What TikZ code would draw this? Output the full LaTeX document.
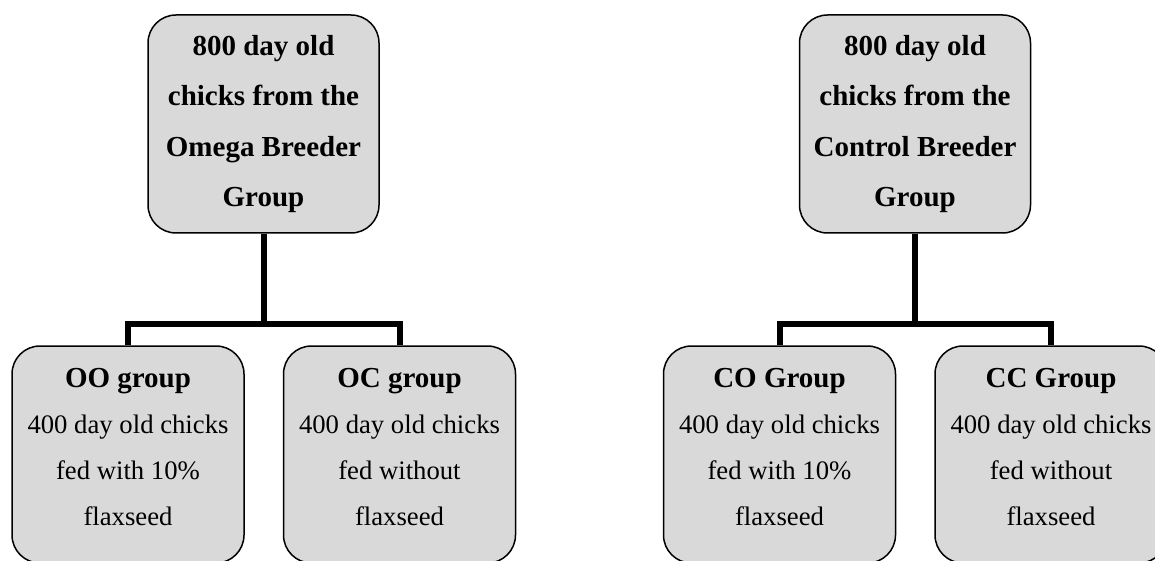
\documentclass[tikz,border=0pt]{standalone}
\usepackage{fontspec}
\setmainfont{Liberation Serif}
\definecolor{boxgray}{HTML}{D9D9D9}
\begin{document}
\begin{tikzpicture}[x=1pt,y=-1pt,
  boxbase/.style={draw=black, line width=1.5pt, fill=boxgray, rounded corners=28pt, inner sep=0pt},
  topbox/.style={boxbase, minimum width=231pt, minimum height=218pt, align=center,
     font=\fontsize{29}{50.3}\selectfont\bfseries},
  lowbox/.style={boxbase, minimum width=232pt, minimum height=217pt},
  lowtext/.style={align=center, inner sep=0pt, font=\fontsize{26.7}{46}\selectfont},
  conn/.style={draw=black, line width=6pt, line join=miter}
]
\useasboundingbox (0,0) rectangle (1155,561);
\clip (0,0) rectangle (1155,561);

% top boxes
\node[topbox] (omega) at (263.5,124) {800 day old\\chicks from the\\Omega Breeder\\Group};
\node[topbox] (control) at (915,124) {800 day old\\chicks from the\\Control Breeder\\Group};

% bottom boxes
\node[lowbox] (oo) at (128,454.5) {};
\node[lowbox] (oc) at (399.5,454.5) {};
\node[lowbox] (co) at (779.5,454.5) {};
\node[lowbox] (cc) at (1051,454.5) {};

\node[lowtext] (ootext) at (oo.center) [yshift=7pt] {{\fontsize{29}{46}\selectfont\bfseries OO group}\\400 day old chicks\\fed with 10\%\\flaxseed};
\node[lowtext] (octext) at (oc.center) [yshift=7pt] {{\fontsize{29}{46}\selectfont\bfseries OC group}\\400 day old chicks\\fed without\\flaxseed};
\node[lowtext] (cotext) at (co.center) [yshift=7pt] {{\fontsize{29}{46}\selectfont\bfseries CO Group}\\400 day old chicks\\fed with 10\%\\flaxseed};
\node[lowtext] (cctext) at (cc.center) [yshift=7pt] {{\fontsize{29}{46}\selectfont\bfseries CC Group}\\400 day old chicks\\fed without\\flaxseed};

% junctions
\coordinate (oj) at (263.5,323.5);
\coordinate (cj) at (915,323.5);

% connectors
\draw[conn] (omega.south) -- (oj);
\draw[conn] (oo.north) -- (oo.north |- oj) -- (oc.north |- oj) -- (oc.north);
\draw[conn] (control.south) -- (cj);
\draw[conn] (co.north) -- (co.north |- cj) -- (cc.north |- cj) -- (cc.north);
\end{tikzpicture}
\end{document}
